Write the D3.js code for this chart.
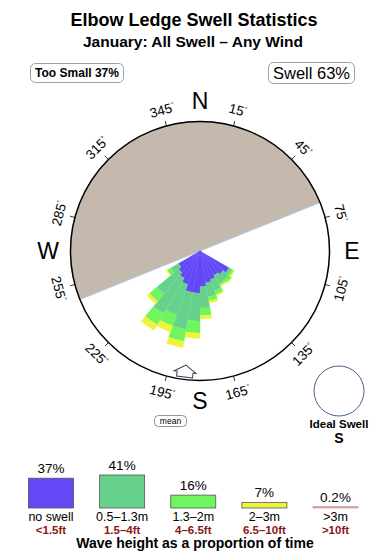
<!DOCTYPE html>
<html>
<head>
<meta charset="utf-8">
<script src="https://cdn.jsdelivr.net/npm/d3@7"></script>
<style>
  body { margin: 0; background: #fff; }
  svg { display: block; font-family: "Liberation Sans", Arial, Helvetica, sans-serif; }
</style>
</head>
<body>
<div id="chart"></div>
<script>
// swell rose data (percent of time per 10 degree sector)
var directions = [125, 135, 145, 155, 165, 175, 185, 195, 205, 215, 225, 235];
var noSwell  = [3.1, 2.8, 2.6, 2.8, 3.0, 3.3, 3.9, 3.9, 3.3, 2.9, 2.6, 2.3];
var swellLow = [0.3, 0.7, 0.9, 1.1, 1.3, 2.0, 2.6, 3.5, 3.0, 3.8, 2.6, 0.8];
var swellMid = [0.2, 0.3, 0.2, 0.4, 0.4, 0.7, 1.1, 1.1, 1.1, 1.2, 0.9, 0.4];
var swellBig = [0.1, 0.1, 0.1, 0.1, 0.2, 0.3, 0.5, 0.6, 0.6, 0.6, 0.3, 0.1];

var bandNames  = ["no swell", "0.5\u20131.3m", "1.3\u20132m", "2\u20133m", ">3m"];
var bandFeet   = ["<1.5ft", "1.5\u20134ft", "4\u20136.5ft", "6.5\u201310ft", ">10ft"];
var bandShare  = [37, 41, 16, 7, 0.2];
var bandLabels = ["37%", "41%", "16%", "7%", "0.2%"];
var bandColors = ["#6248f6", "#66d18c", "#6ff55e", "#eef43c", "#cfa3a3"];

var tickAngles = [15, 45, 75, 105, 135, 165, 195, 225, 255, 285, 315, 345];
var compass = [["N", 0], ["E", 90], ["S", 180], ["W", 270]];
var shelterFrom = 248, shelterTo = 68;   // grey (land) sector
var meanDir = 187;
var tooSmallPct = 37, swellPct = 63;

var width = 390, height = 560;
var cx = 200, cy = 251, R = 129.5;
var rad = Math.PI / 180;

var svg = d3.select('#chart').append('svg')
  .attr('width', width).attr('height', height);

// titles
svg.append('text').attr('x', 194).attr('y', 26).attr('text-anchor', 'middle')
  .attr('font-size', 18).attr('font-weight', 'bold').text('Elbow Ledge Swell Statistics');
svg.append('text').attr('x', 193).attr('y', 47).attr('text-anchor', 'middle')
  .attr('font-size', 15.5).attr('font-weight', 'bold').text('January: All Swell \u2013 Any Wind');

// boxed labels
function box(x, y, w, h, txt, size, weight) {
  svg.append('rect').attr('x', x).attr('y', y).attr('width', w).attr('height', h)
    .attr('rx', 5).attr('fill', '#fff').attr('stroke', '#888').attr('stroke-width', 0.8);
  svg.append('text').attr('x', x + w / 2).attr('y', y + h / 2).attr('dy', '0.36em')
    .attr('text-anchor', 'middle').attr('font-size', size).attr('font-weight', weight).text(txt);
}
box(30.5, 63.5, 93, 19, 'Too Small ' + tooSmallPct + '%', 12, 'bold');
box(268.5, 62.5, 86, 21, 'Swell ' + swellPct + '%', 16.5, 'normal');

var g = svg.append('g').attr('transform', 'translate(' + cx + ',' + cy + ')');

// sheltered sector
g.append('path')
  .attr('d', d3.arc().innerRadius(0).outerRadius(R)
    .startAngle(shelterFrom * rad).endAngle((360 + shelterTo) * rad)())
  .attr('fill', '#c5b9ad').attr('stroke', '#a9cdea').attr('stroke-width', 1);

// rose wedges
var r = d3.scaleLinear().domain([0, 12]).range([0, R]);
var rows = directions.map(function(d, i) {
  return { dir: d, a: noSwell[i], b: swellLow[i], c: swellMid[i], d: swellBig[i] };
});
var stack = d3.stack().keys(['a', 'b', 'c', 'd'])(rows);
var arc = d3.arc();
stack.forEach(function(layer, k) {
  g.selectAll(null).data(layer).enter().append('path')
    .attr('d', function(p) {
      return arc({ innerRadius: r(p[0]), outerRadius: r(p[1]),
        startAngle: (p.data.dir - 5) * rad, endAngle: (p.data.dir + 5) * rad });
    })
    .attr('fill', bandColors[k])
    .attr('stroke', bandColors[k]).attr('stroke-width', 0.3);
});

// outer ring
g.append('circle').attr('r', R).attr('fill', 'none').attr('stroke', '#000').attr('stroke-width', 1.5);

// ticks and degree labels
tickAngles.forEach(function(a) {
  var s = Math.sin(a * rad), c = Math.cos(a * rad);
  g.append('line').attr('x1', R * s).attr('y1', -R * c)
    .attr('x2', (R + 5) * s).attr('y2', -(R + 5) * c)
    .attr('stroke', '#000').attr('stroke-width', 0.8);
  var rot = (a > 90 && a < 270) ? a - 180 : (a > 180 ? a - 360 : a);
  var t = g.append('text')
    .attr('transform', 'translate(' + (146 * s) + ',' + (-146 * c) + ') rotate(' + rot + ')')
    .attr('text-anchor', 'middle').attr('dy', '0.36em').attr('font-size', 13.5);
  t.append('tspan').text(a);
  t.append('tspan').attr('font-size', 7).attr('dy', -5).text('\u00b0');
});

// compass letters
compass.forEach(function(p) {
  var s = Math.sin(p[1] * rad), c = Math.cos(p[1] * rad);
  var rr = (p[1] % 180 === 0) ? 150 : 152;
  g.append('text').attr('x', rr * s).attr('y', -rr * c).attr('dy', '0.36em')
    .attr('text-anchor', 'middle').attr('font-size', 23).text(p[0]);
});

// mean direction arrow (points inward from the rim)
var arrow = [[0, -115], [-11, -122], [-8, -122], [-8, -127], [8, -127], [8, -122], [11, -122]];
g.append('path')
  .attr('d', d3.line()(arrow) + 'Z')
  .attr('transform', 'rotate(' + meanDir + ')')
  .attr('fill', '#fff').attr('stroke', '#2d3e52').attr('stroke-width', 1);
svg.append('rect').attr('x', 154.5).attr('y', 415.5).attr('width', 32).attr('height', 11)
  .attr('rx', 4).attr('fill', '#fff').attr('stroke', '#666').attr('stroke-width', 0.7);
svg.append('text').attr('x', 170.5).attr('y', 421).attr('dy', '0.35em')
  .attr('text-anchor', 'middle').attr('font-size', 8.5).text('mean');

// ideal swell
svg.append('circle').attr('cx', 339).attr('cy', 391).attr('r', 25)
  .attr('fill', '#fff').attr('stroke', '#46648a').attr('stroke-width', 1);
svg.append('text').attr('x', 339).attr('y', 428).attr('text-anchor', 'middle')
  .attr('font-size', 11.5).attr('font-weight', 'bold').text('Ideal Swell');
svg.append('text').attr('x', 339).attr('y', 443).attr('text-anchor', 'middle')
  .attr('font-size', 14).attr('font-weight', 'bold').text('S');

// legend
var lx = d3.scalePoint().domain(bandNames).range([51, 335.5]);
var lh = d3.scaleLinear().domain([0, 41]).range([0, 33]);
var base = 508, bw = 45;
bandNames.forEach(function(n, i) {
  var h = Math.max(lh(bandShare[i]), 1.5);
  var x = lx(n);
  svg.append('rect').attr('x', x - bw / 2).attr('y', base - h).attr('width', bw).attr('height', h)
    .attr('fill', bandColors[i])
    .attr('stroke', i === 4 ? bandColors[i] : '#555').attr('stroke-width', 0.8);
  svg.append('text').attr('x', x).attr('y', base - h - 5).attr('text-anchor', 'middle')
    .attr('font-size', 13.5).text(bandLabels[i]);
  svg.append('text').attr('x', x).attr('y', 521).attr('text-anchor', 'middle')
    .attr('font-size', 12.5).text(n);
  svg.append('text').attr('x', x).attr('y', 534).attr('text-anchor', 'middle')
    .attr('font-size', 11.5).attr('font-weight', 'bold').attr('fill', '#8a1616').text(bandFeet[i]);
});
svg.append('text').attr('x', 195).attr('y', 548).attr('text-anchor', 'middle')
  .attr('font-size', 14).attr('font-weight', 'bold').text('Wave height as a proportion of time');
</script>
</body>
</html>
